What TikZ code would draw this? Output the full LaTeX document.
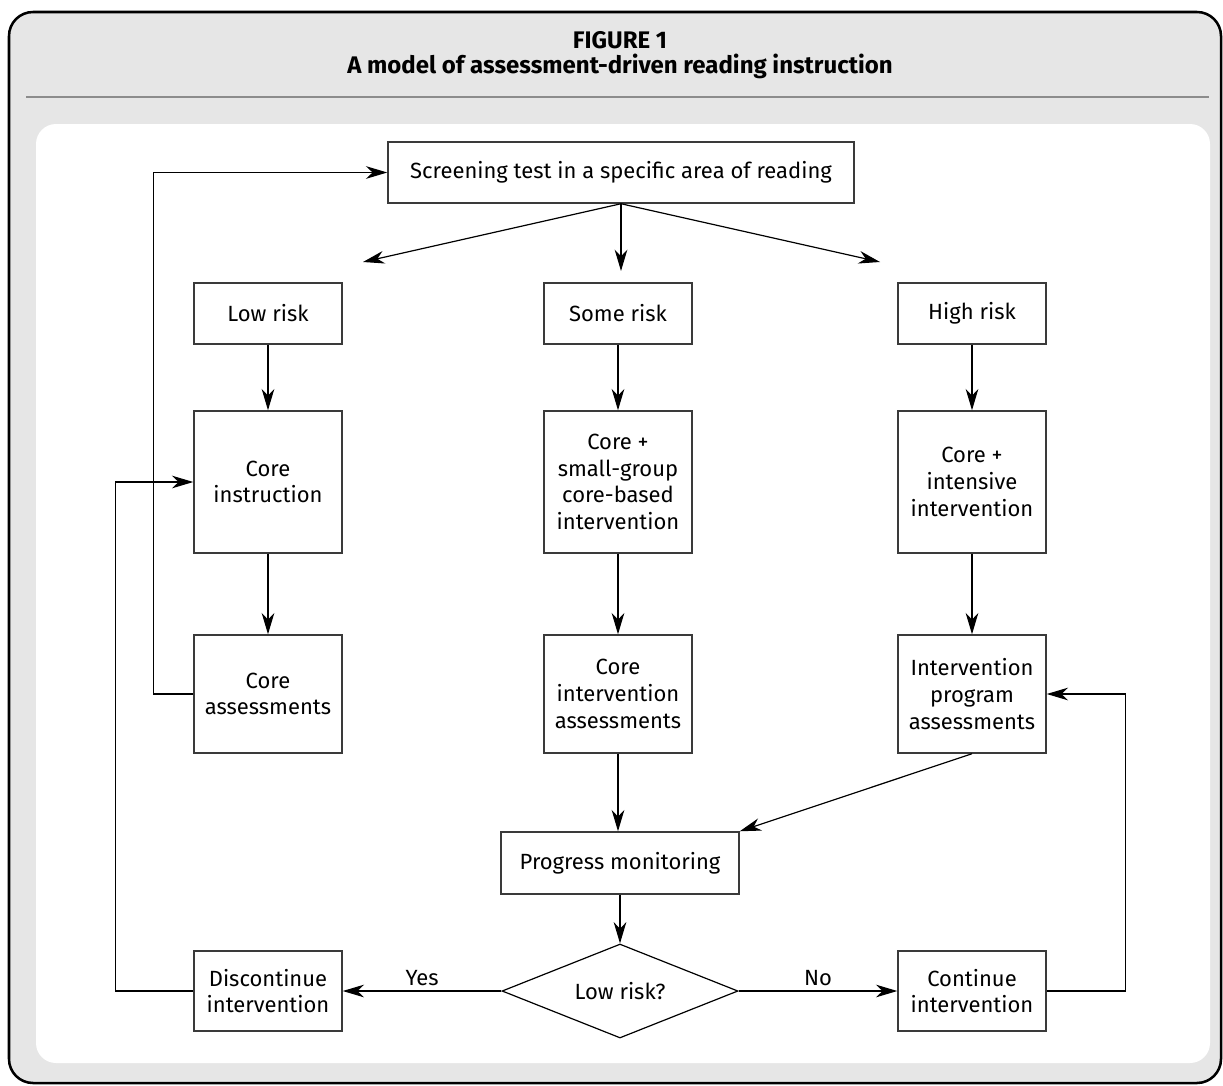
\documentclass[tikz,border=0pt]{standalone}
\usepackage{fontspec}
\setmainfont{Fira Sans}
\usepackage{xcolor}
\usepackage{tikz}
\usetikzlibrary{shapes,arrows.meta,positioning,calc,backgrounds}

\definecolor{framegray}{HTML}{E6E6E6}
\definecolor{rulegray}{HTML}{8C8C8C}
\definecolor{boxline}{HTML}{3A3A3A}

\begin{document}
\begin{tikzpicture}[x=0.75pt, y=-0.75pt, >={Stealth[length=16pt,width=9.5pt,inset=5pt]}]
    % Define styles
    \tikzstyle{stepbox} = [rectangle, draw=boxline, line width=1.1pt, fill=white, align=center, inner sep=0pt, font=\fontsize{16.5}{20}\selectfont]
    \tikzstyle{riskbox} = [stepbox, minimum width=111pt, minimum height=45.75pt]
    \tikzstyle{treatbox} = [stepbox, minimum width=111pt, minimum height=106.5pt]
    \tikzstyle{assessbox} = [stepbox, minimum width=111pt, minimum height=88.5pt]
    \tikzstyle{endbox} = [stepbox, minimum width=111pt, minimum height=60pt]
    \tikzstyle{decision} = [diamond, draw=black, line width=0.9pt, fill=white, aspect=2.5, inner sep=0pt, minimum width=177pt, minimum height=70.5pt, font=\fontsize{16.5}{20}\selectfont]
    \tikzstyle{flow} = [->, line width=0.9pt, black]
    \tikzstyle{titletext} = [font=\fontsize{18}{22}\selectfont\bfseries, anchor=base]

    % Frame and heading
    \useasboundingbox (0,0) rectangle (1223,1085);
    \draw[line width=1.9pt, fill=framegray, rounded corners=18pt] (9,12) rectangle (1221,1083);
    \fill[white, rounded corners=15pt] (36,124) rectangle (1210,1063);
    \draw[rulegray, line width=0.8pt] (26,97) -- (1209,97);
    \node[titletext] (fignum) at (620,48) {FIGURE 1};
    \node[titletext] (figtitle) at (620,73) {A model of assessment-driven reading instruction};

    % Screening and risk levels
    \node[stepbox, minimum width=349.5pt, minimum height=45.75pt] (screen) at (621,172.5) {Screening test in a specific area of reading};
    \node[riskbox] (low) at (268,313.5) {Low risk};
    \node[riskbox] (some) at (618,313.5) {Some risk};
    \node[riskbox] (high) at (972,313.5) {High risk};
    \coordinate (splitleft) at (363,262);
    \coordinate (splitmid) at (621,271);
    \coordinate (splitright) at (880,262);

    % Instruction
    \node[treatbox] (coreinst) at (268,482) {Core\\instruction};
    \node[treatbox] (coresmall) at (618,482) {Core +\\small-group\\core-based\\intervention};
    \node[treatbox] (coreint) at (972,482) {Core +\\intensive\\intervention};

    % Assessments
    \node[assessbox] (coreass) at (268,694) {Core\\assessments};
    \node[assessbox] (coreintass) at (618,694) {Core\\intervention\\assessments};
    \node[assessbox] (progass) at (972,694) {Intervention\\program\\assessments};

    % Monitoring and decision
    \node[stepbox, minimum width=178.5pt, minimum height=46.5pt] (progress) at (620,863) {Progress monitoring};
    \node[decision] (decide) at (620,991) {Low risk?};
    \node[endbox] (discont) at (268,991) {Discontinue\\intervention};
    \node[endbox] (cont) at (972,991) {Continue\\intervention};

    % Connectors
    \draw[flow] (screen.south) -- (splitleft);
    \draw[flow] (screen.south) -- (splitmid);
    \draw[flow] (screen.south) -- (splitright);
    \draw[flow] (low) -- (coreinst);
    \draw[flow] (some) -- (coresmall);
    \draw[flow] (high) -- (coreint);
    \draw[flow] (coreinst) -- (coreass);
    \draw[flow] (coresmall) -- (coreintass);
    \draw[flow] (coreint) -- (progass);
    \draw[flow] (coreintass.south) -- (coreintass.south |- progress.north);
    \draw[flow] (progass.south) -- (progress.north east);
    \draw[flow] (progress) -- (decide);
    \draw[flow] (decide.west) -- node[midway, above, font=\fontsize{16.5}{20}\selectfont] {Yes} (discont.east);
    \draw[flow] (decide.east) -- node[midway, above, font=\fontsize{16.5}{20}\selectfont] {No} (cont.west);
    \draw[flow] (coreass.west) -- ++(-40,0) |- (screen.west);
    \draw[flow] (discont.west) -- ++(-78,0) |- (coreinst.west);
    \draw[flow] (cont.east) -- ++(79,0) |- (progass.east);

\end{tikzpicture}
\end{document}
